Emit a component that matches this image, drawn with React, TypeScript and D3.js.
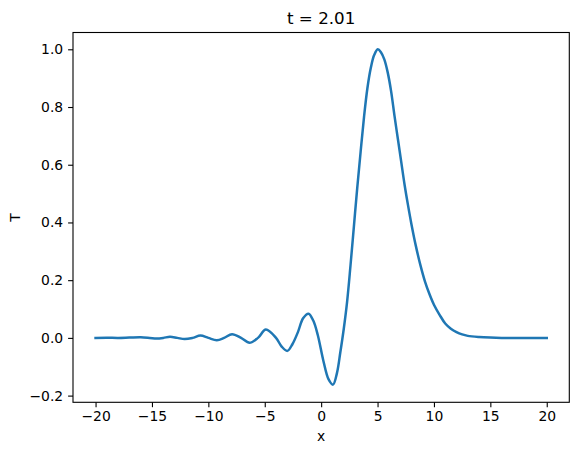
import React, { useRef, useEffect } from 'react';
import * as d3 from 'd3';

// x positions and T values (t = 2.01)
const xValues = [
  -20, -19, -18, -17, -16, -15.2, -14.6, -14, -13.4, -12.75, -12.1, -11.4,
  -10.7, -10, -9.25, -8.6, -7.9, -7.1, -6.35, -5.6, -4.9, -4.0, -3.5, -3.0,
  -2.55, -2.06, -1.6, -1.12, -0.7, -0.3, 0.2, 0.65, 1.05, 1.4, 1.7, 2.0,
  2.3, 2.6, 2.9, 3.2, 3.5, 3.8, 4.1, 4.4, 4.7, 5.02, 5.3, 5.6, 5.9, 6.2,
  6.5, 6.8, 7.1, 7.4, 7.7, 8.0, 8.4, 8.8, 9.2, 9.6, 10.0, 10.5, 11.0, 11.5,
  12.0, 12.5, 13.0, 14.0, 15.0, 16, 18, 20,
];
const tValues = [
  0, 0.0005, 0, 0.001, 0.002, 0, -0.002, 0, 0.004, 0, -0.004, 0,
  0.008, 0, -0.008, 0, 0.013, 0, -0.017, 0, 0.029, 0, -0.03, -0.045,
  -0.022, 0.02, 0.068, 0.084, 0.06, 0.01, -0.08, -0.143, -0.162, -0.122, -0.05, 0.03,
  0.125, 0.25, 0.385, 0.52, 0.645, 0.765, 0.865, 0.935, 0.98, 1.0, 0.99, 0.965, 0.92, 0.855,
  0.77, 0.69, 0.61, 0.53, 0.46, 0.395, 0.318, 0.252, 0.196, 0.152, 0.115, 0.08, 0.05, 0.032,
  0.02, 0.012, 0.007, 0.003, 0.001, 0, 0, 0,
];
const xTicks = [-20, -15, -10, -5, 0, 5, 10, 15, 20];
const yTicks = [-0.2, 0.0, 0.2, 0.4, 0.6, 0.8, 1.0];
const title = 't = 2.01';

const width = 578;
const height = 455;
const margin = { top: 32.5, right: 8.7, bottom: 52.7, left: 73 };
const font = 'DejaVu Sans, sans-serif';

function App() {
  const svgRef = useRef<SVGSVGElement>(null);

  useEffect(() => {
    const svg = d3.select(svgRef.current);
    svg.selectAll('*').remove();

    const xScale = d3
      .scaleLinear()
      .domain([-22, 22])
      .range([margin.left, width - margin.right]);
    const yScale = d3
      .scaleLinear()
      .domain([-0.2232, 1.0582])
      .range([height - margin.bottom, margin.top]);

    const points = xValues.map((x, i) => [x, tValues[i]] as [number, number]);
    const line = d3
      .line<[number, number]>()
      .x((d) => xScale(d[0]))
      .y((d) => yScale(d[1]))
      .curve(d3.curveCatmullRom.alpha(0.5));

    svg
      .append('path')
      .datum(points)
      .attr('d', line)
      .attr('fill', 'none')
      .attr('stroke', '#1f77b4')
      .attr('stroke-width', 2.5)
      .attr('stroke-linejoin', 'round')
      .attr('stroke-linecap', 'square');

    // axes
    const xAxis = d3
      .axisBottom(xScale)
      .tickValues(xTicks)
      .tickSizeInner(4.9)
      .tickSizeOuter(0)
      .tickPadding(4.2)
      .tickFormat(d3.format('d'));
    const gx = svg
      .append('g')
      .attr('transform', `translate(0,${height - margin.bottom})`)
      .call(xAxis);

    const yAxis = d3
      .axisLeft(yScale)
      .tickValues(yTicks)
      .tickSizeInner(4.9)
      .tickSizeOuter(0)
      .tickPadding(4.9)
      .tickFormat(d3.format('.1f'));
    const gy = svg
      .append('g')
      .attr('transform', `translate(${margin.left},0)`)
      .call(yAxis);

    [gx, gy].forEach((g) => {
      g.select('.domain').remove();
      g.selectAll('line').attr('stroke', '#000').attr('stroke-width', 1.1);
      g.selectAll('text')
        .attr('fill', '#000')
        .style('font-family', font)
        .style('font-size', '13.9px');
    });

    // frame
    svg
      .append('rect')
      .attr('x', margin.left)
      .attr('y', margin.top)
      .attr('width', width - margin.left - margin.right)
      .attr('height', height - margin.top - margin.bottom)
      .attr('fill', 'none')
      .attr('stroke', '#000')
      .attr('stroke-width', 1.1);

    svg
      .append('text')
      .attr('x', (margin.left + width - margin.right) / 2)
      .attr('y', 24)
      .attr('text-anchor', 'middle')
      .style('font-family', font)
      .style('font-size', '16.7px')
      .text(title);

    svg
      .append('text')
      .attr('x', (margin.left + width - margin.right) / 2)
      .attr('y', 441)
      .attr('text-anchor', 'middle')
      .style('font-family', font)
      .style('font-size', '13.9px')
      .text('x');

    svg
      .append('text')
      .attr('transform', `translate(19.5,${(margin.top + height - margin.bottom) / 2}) rotate(-90)`)
      .attr('text-anchor', 'middle')
      .style('font-family', font)
      .style('font-size', '13.9px')
      .text('T');
  }, []);

  return (
    <svg
      ref={svgRef}
      width={width}
      height={height}
      style={{ position: 'absolute', left: 0, top: 0, background: '#fff' }}
    />
  );
}

export default App;
